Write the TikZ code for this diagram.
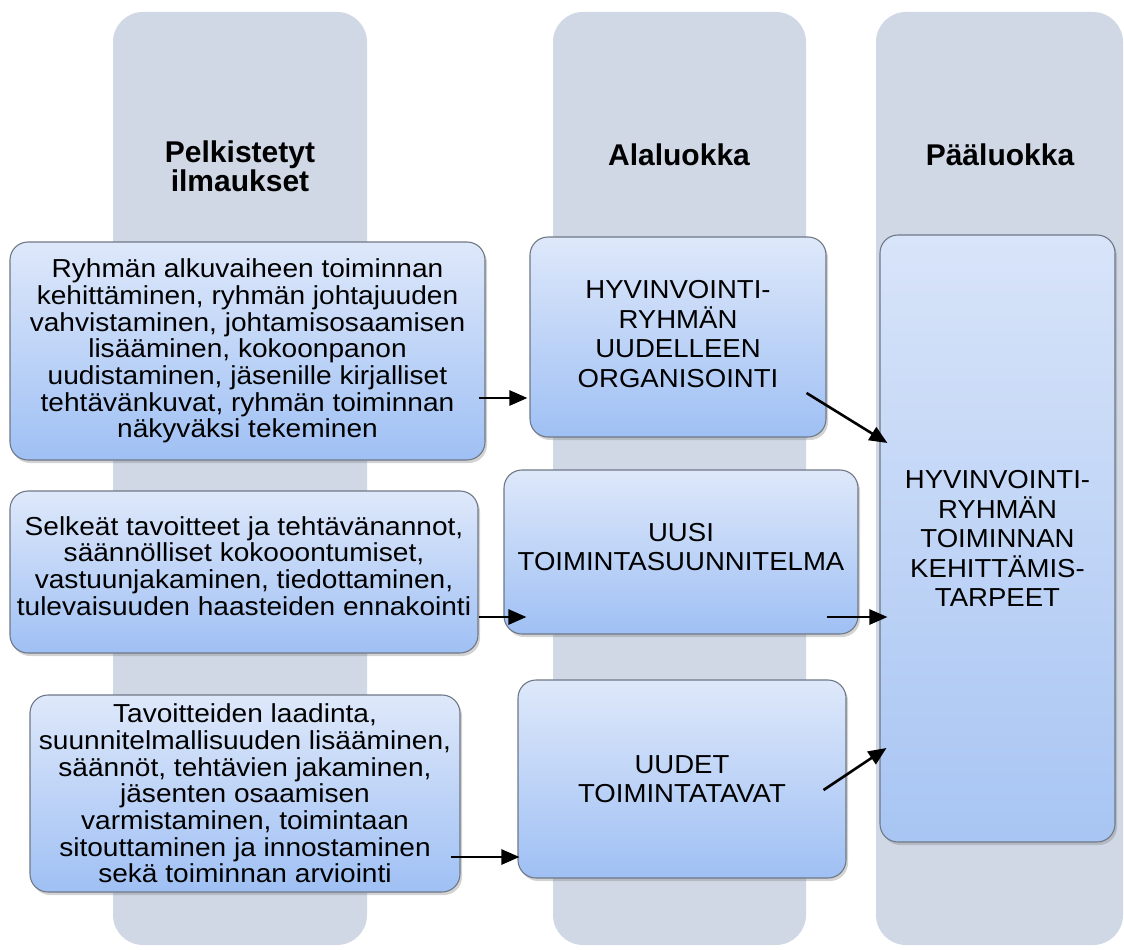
\documentclass[tikz,border=0pt]{standalone}
\usepackage{fontspec}
\setmainfont{Liberation Sans}
\newfontfamily\bodyfont[FakeStretch=1.08]{Liberation Sans}
\newfontfamily\catfont[FakeStretch=1.06]{Liberation Sans}
\usetikzlibrary{shadows,arrows.meta,calc}
\definecolor{colbg}{HTML}{D0D8E6}
\definecolor{boxtop}{HTML}{DEE8FA}
\definecolor{boxbot}{HTML}{9FC0F4}
\definecolor{ptop}{HTML}{D8E4F9}
\definecolor{pbot}{HTML}{A8C5F3}
\definecolor{boxline}{HTML}{6E7886}
\begin{document}
\begin{tikzpicture}[x=1pt,y=-1pt,
  column/.style={fill=colbg,rounded corners=30pt,draw=none},
  bluebox/.style={draw=boxline,line width=1.1pt,rounded corners=18pt,top color=boxtop,bottom color=boxbot,
    drop shadow={opacity=0.35,shadow xshift=2pt,shadow yshift=-3pt},inner sep=0pt,align=center,
    font=\bodyfont\fontsize{26}{26.7}\selectfont},
  catbox/.style={bluebox,font=\catfont\fontsize{26}{29.5}\selectfont},
  bodytext/.style={align=center,inner sep=0pt,font=\bodyfont\fontsize{26}{26.7}\selectfont},
  cattext/.style={align=center,inner sep=0pt,font=\catfont\fontsize{26}{29.5}\selectfont},
  header/.style={align=center,font=\fontsize{30}{27}\selectfont\bfseries},
  arr/.style={line width=2.6pt,-{Triangle[length=18pt,width=15pt]}}]
\useasboundingbox (0,0) rectangle (1124,950);
% columns
\path[column] (113,12) rectangle (367,945);
\path[column] (553,12) rectangle (806,945);
\path[column] (876,12) rectangle (1123,945);
\node[header] (h1) at (240,166) {Pelkistetyt\\ilmaukset};
\node[header] (h2) at (679,155) {Alaluokka};
\node[header] (h3) at (1000,155) {Pääluokka};
% boxes
\node[bluebox,minimum width=475pt,minimum height=218pt] (B1) at (247.5,351)
 {Ryhmän alkuvaiheen toiminnan\\kehittäminen, ryhmän johtajuuden\\vahvistaminen, johtamisosaamisen\\lisääminen, kokoonpanon\\uudistaminen, jäsenille kirjalliset\\tehtävänkuvat, ryhmän toiminnan\\näkyväksi tekeminen};
\node[bluebox,minimum width=468pt,minimum height=162pt] (B2) at (244,572) {};
\node[bodytext] (B2t) at (244,566)
 {Selkeät tavoitteet ja tehtävänannot,\\säännölliset kokooontumiset,\\vastuunjakaminen, tiedottaminen,\\tulevaisuuden haasteiden ennakointi};
\node[bluebox,minimum width=430pt,minimum height=197pt] (B3) at (245,793.5)
 {Tavoitteiden laadinta,\\suunnitelmallisuuden lisääminen,\\säännöt, tehtävien jakaminen,\\jäsenten osaamisen\\varmistaminen, toimintaan\\sitouttaminen ja innostaminen\\sekä toiminnan arviointi};
\node[catbox,minimum width=296pt,minimum height=200pt] (A1) at (678,337) {};
\node[cattext] (A1t) at (678,334)
 {HYVINVOINTI-\\RYHMÄN\\UUDELLEEN\\ORGANISOINTI};
\node[catbox,minimum width=354pt,minimum height=164pt] (A2) at (681,552) {};
\node[cattext] (A2t) at (681,547)
 {UUSI\\TOIMINTASUUNNITELMA};
\node[catbox,minimum width=328pt,minimum height=198pt] (A3) at (682,779)
 {UUDET\\TOIMINTATAVAT};
\node[catbox,top color=ptop,bottom color=pbot,minimum width=235pt,minimum height=607pt] (P) at (997.5,538.5)
 {HYVINVOINTI-\\RYHMÄN\\TOIMINNAN\\KEHITTÄMIS-\\TARPEET};
% arrows
\draw[arr] ($(B1.east)+(-7,47)$) -- ($(A1.west)+(-2,61)$);
\draw[arr] ($(B2.east)+(0,45)$) -- ($(A2.west)+(23,65)$);
\draw[arr] ($(B3.east)+(-10,63.5)$) -- ($(A3.west)+(2,78)$);
\draw[arr] ($(A1.east)+(-20,56)$) -- ($(P.west)+(8,-95.5)$);
\draw[arr] ($(A2.east)+(-32,65)$) -- ($(P.west)+(8,78.5)$);
\draw[arr] ($(A3.east)+(-23,11)$) -- ($(P.west)+(7,209.5)$);
\end{tikzpicture}
\end{document}
